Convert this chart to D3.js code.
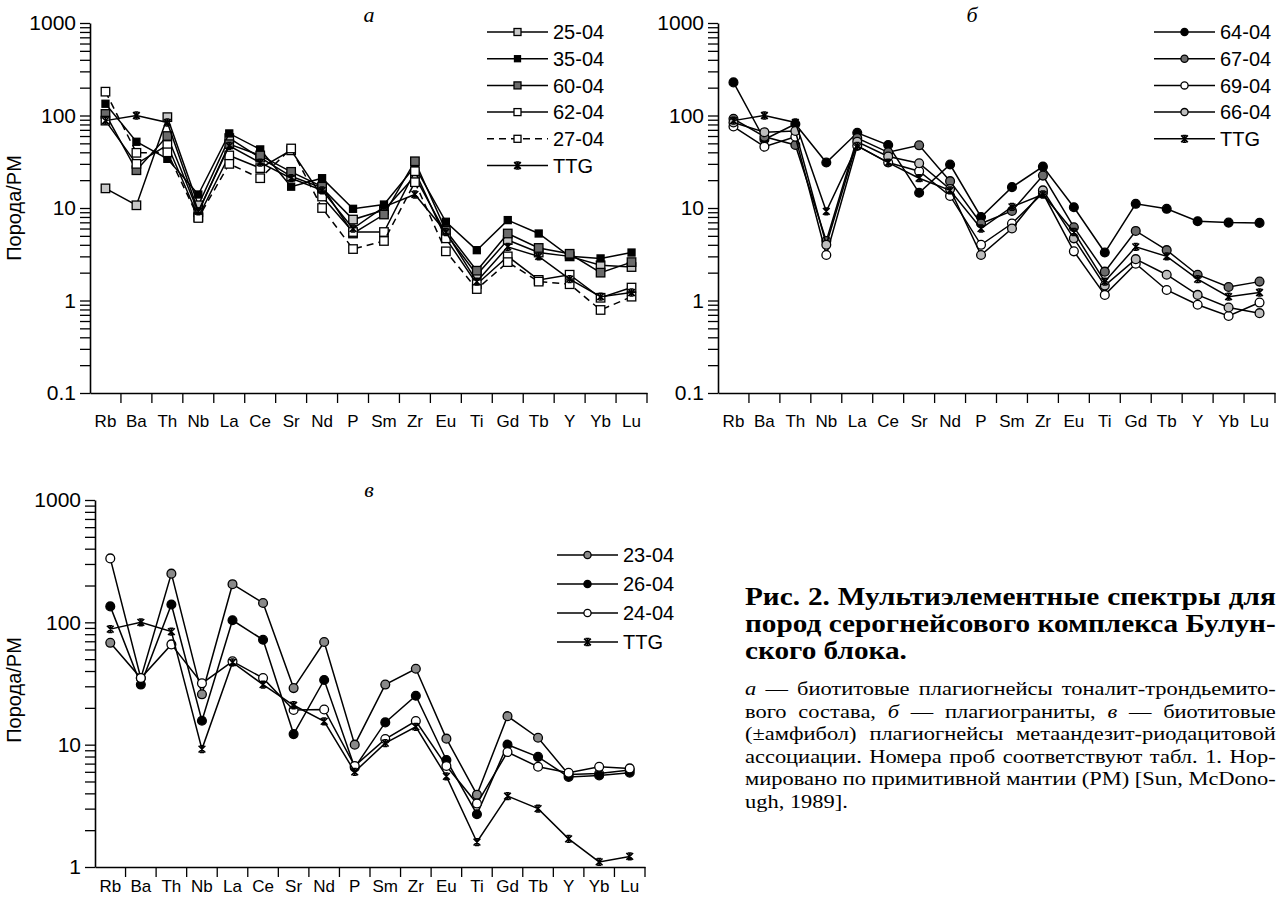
<!DOCTYPE html>
<html>
<head>
<meta charset="utf-8">
<script src="https://cdn.jsdelivr.net/npm/d3@7"></script>
<style>
body { margin: 0; background: #fff; }
svg { display: block; }
</style>
</head>
<body>
<script>
// elements on the x axis (same for all three panels)
var elements = ["Rb","Ba","Th","Nb","La","Ce","Sr","Nd","P","Sm","Zr","Eu","Ti","Gd","Tb","Y","Yb","Lu"];

// TTG reference curve
var ttg = [88, 100, 84, 9.2, 47, 31, 21, 15.5, 6.0, 10.3, 14, 5.5, 1.6, 3.8, 3.0, 1.7, 1.1, 1.22];

// panel a
var s2504 = [16.3, 10.7, 96, 10.7, 57, 35, 22, 16.5, 7.5, 9.5, 22, 5.3, 1.9, 4.5, 3.3, 3.0, 2.4, 2.3];
var s3504 = [134, 52, 34, 14, 64, 43, 17, 21, 9.8, 10.9, 28, 7.1, 3.5, 7.4, 5.3, 3.0, 2.85, 3.3];
var s6004 = [104, 25.6, 60, 9.0, 49, 37, 24.6, 17, 5.3, 8.5, 32, 5.7, 2.1, 5.3, 3.7, 3.2, 2.0, 2.6];
var s6204 = [88, 30, 48, 8.0, 37, 27, 42, 13.3, 5.5, 5.5, 25, 4.7, 1.5, 3.0, 1.67, 1.9, 1.07, 1.38];
var s2704 = [181, 39.5, 40, 7.8, 30, 21, 44, 10, 3.6, 4.4, 19, 3.4, 1.33, 2.6, 1.6, 1.5, 0.79, 1.1];

// panel б
var s6404 = [228, 55, 81, 31, 65, 48, 14.6, 29.5, 8.0, 16.8, 28, 10.2, 3.3, 11.1, 9.8, 7.2, 6.95, 6.9];
var s6704 = [92, 59, 48, 4.4, 57, 40, 47.6, 19.5, 6.8, 9.3, 22.4, 6.2, 2.05, 5.65, 3.5, 1.9, 1.4, 1.6];
var s6904 = [76, 46, 59, 3.1, 47, 31, 25, 13.5, 4.0, 6.8, 14.5, 3.4, 1.15, 2.5, 1.3, 0.9, 0.68, 0.95];
var s6604 = [84, 66, 68, 4.0, 52, 36, 30.5, 16, 3.1, 6.0, 15.5, 4.7, 1.45, 2.8, 1.9, 1.15, 0.84, 0.73];

// panel в
var s2304 = [68, 35, 250, 25.8, 205, 144, 29, 69, 10, 31, 41.7, 11.2, 3.9, 17.1, 11.4, 5.7, 5.8, 6.2];
var s2604 = [135, 31, 140, 15.7, 104, 72, 12.2, 33.8, 6.5, 15.2, 25.1, 7.5, 2.7, 10, 7.95, 5.45, 5.6, 5.9];
var s2404 = [333, 35, 66, 31.7, 48, 35, 19.2, 19.4, 6.7, 11.1, 15.6, 6.7, 3.3, 8.7, 6.6, 5.9, 6.6, 6.4];

var SANS = "'Liberation Sans', Arial, sans-serif";
var SERIF = "'Liberation Serif', 'Times New Roman', serif";

var W = 1284, H = 900;
var svg = d3.select("body").append("svg").attr("width", W).attr("height", H);
svg.append("rect").attr("width", W).attr("height", H).attr("fill", "#fff");

function starPath(r) {
	var p = d3.path();
	var b = r * 0.6;
	p.moveTo(-r, -r); p.lineTo(r, r);
	p.moveTo(r, -r); p.lineTo(-r, r);
	p.moveTo(-b, -r); p.lineTo(b, -r);
	p.moveTo(-b, r); p.lineTo(b, r);
	p.moveTo(0, -r); p.lineTo(0, r);
	return p.toString();
}

function addMarker(g, m, cx, cy, legend) {
	if (m.shape == "square") {
		var s = legend ? m.legSize : m.size;
		g.append("rect")
		.attr("x", cx - s/2).attr("y", cy - s/2)
		.attr("width", s).attr("height", s)
		.attr("fill", m.fill).attr("stroke", "#000").attr("stroke-width", 1.3);
	} else if (m.shape == "circle") {
		g.append("circle")
		.attr("cx", cx).attr("cy", cy).attr("r", legend ? 3.6 : 4.4)
		.attr("fill", m.fill).attr("stroke", "#000").attr("stroke-width", 1.3);
	} else {
		g.append("path")
		.attr("transform", "translate(" + cx + "," + cy + ")")
		.attr("d", starPath(3.4))
		.attr("fill", "none").attr("stroke", "#000").attr("stroke-width", 1.5);
	}
}

function drawPanel(cfg) {
	var g = svg.append("g");
	var x = d3.scaleBand().domain(elements).range([cfg.x0, cfg.x1]);
	var y = d3.scaleLog().domain(cfg.yDomain).range([cfg.yBottom, cfg.yTop]);

	// minor + major ticks of the log axis
	var ticks = [];
	var e0 = Math.round(Math.log10(cfg.yDomain[0])), e1 = Math.round(Math.log10(cfg.yDomain[1]));
	for (var e = e0; e < e1; e++) {
		for (var k = 1; k < 10; k++) ticks.push(k * Math.pow(10, e));
	}
	ticks.push(Math.pow(10, e1));

	var yAxis = d3.axisLeft(y)
	.tickValues(ticks)
	.tickSize(10)
	.tickSizeOuter(0)
	.tickPadding(4)
	.tickFormat(function(d) {
		var l = Math.log10(d);
		if (Math.abs(l - Math.round(l)) > 1e-9) return "";
		return Math.round(l) < 0 ? "0.1" : String(Math.round(d));
	});

	g.append("g")
	.attr("transform", "translate(" + cfg.x0 + ",0)")
	.call(yAxis)
	.call(function(s) {
		s.select(".domain").attr("stroke-width", 1.6);
		s.selectAll(".tick line").attr("stroke-width", 1.3);
		s.selectAll("text").attr("font-family", SANS).attr("font-size", 21).attr("fill", "#000");
	});

	var xAxis = d3.axisBottom(x).tickSize(0).tickSizeOuter(0).tickPadding(cfg.labelPad);
	g.append("g")
	.attr("transform", "translate(0," + cfg.yBottom + ")")
	.call(xAxis)
	.call(function(s) {
		s.select(".domain").attr("stroke-width", 1.6);
		s.selectAll("text").attr("font-family", SANS).attr("font-size", 17).attr("fill", "#000");
	});

	// ticks between the elements
	g.append("g")
	.selectAll("line")
	.data(elements)
	.enter()
	.append("line")
	.attr("x1", function(d){ return x(d) + x.bandwidth(); })
	.attr("x2", function(d){ return x(d) + x.bandwidth(); })
	.attr("y1", cfg.yBottom)
	.attr("y2", cfg.yBottom + 10)
	.attr("stroke", "#000")
	.attr("stroke-width", 1.3);

	if (cfg.yTitle) {
		g.append("text")
		.attr("transform", "translate(" + cfg.yTitleX + "," + cfg.yTitleY + ") rotate(-90)")
		.attr("text-anchor", "middle")
		.attr("font-family", SANS)
		.attr("font-size", 20)
		.text("Порода/PM");
	}

	g.append("text")
	.attr("x", cfg.letterX).attr("y", cfg.letterY)
	.attr("text-anchor", "middle")
	.attr("font-family", SERIF)
	.attr("font-style", "italic")
	.attr("font-size", 22)
	.text(cfg.letter);

	var line = d3.line()
	.x(function(d, i){ return x(elements[i]) + x.bandwidth()/2; })
	.y(function(d){ return y(d); });

	cfg.series.forEach(function(s) {
		g.append("path")
		.datum(s.values)
		.attr("d", line)
		.attr("fill", "none")
		.attr("stroke", "#000")
		.attr("stroke-width", 1.5)
		.attr("stroke-dasharray", s.dash || null);
		var mg = g.append("g");
		s.values.forEach(function(v, i) {
			addMarker(mg, s, x(elements[i]) + x.bandwidth()/2, y(v), false);
		});
	});

	// legend
	cfg.series.forEach(function(s, i) {
		var yy = cfg.legY + i * cfg.legDy;
		g.append("line")
		.attr("x1", cfg.legX).attr("x2", cfg.legX + 61)
		.attr("y1", yy).attr("y2", yy)
		.attr("stroke", "#000").attr("stroke-width", 1.5)
		.attr("stroke-dasharray", s.dash || null);
		addMarker(g, s, cfg.legX + 30.5, yy, true);
		g.append("text")
		.attr("x", cfg.legX + 66).attr("y", yy)
		.attr("dy", "0.36em")
		.attr("font-family", SANS)
		.attr("font-size", 20)
		.text(s.name);
	});
}

var ttgSeries = {name: "TTG", values: ttg, shape: "star"};

drawPanel({
	x0: 90, x1: 647, yTop: 23, yBottom: 393, yDomain: [0.1, 1000], labelPad: 22,
	yTitle: true, yTitleX: 21, yTitleY: 208,
	letter: "а", letterX: 369, letterY: 22,
	legX: 487, legY: 32, legDy: 26.7,
	series: [
		{name: "25-04", values: s2504, shape: "square", fill: "#c8c8c8", size: 8.5, legSize: 7},
		{name: "35-04", values: s3504, shape: "square", fill: "#000", size: 7, legSize: 6},
		{name: "60-04", values: s6004, shape: "square", fill: "#6b6b6b", size: 8.5, legSize: 7},
		{name: "62-04", values: s6204, shape: "square", fill: "#fff", size: 8.5, legSize: 7},
		{name: "27-04", values: s2704, shape: "square", fill: "#fff", size: 8.5, legSize: 7, dash: "7,5"},
		ttgSeries
	]
});

drawPanel({
	x0: 718, x1: 1275, yTop: 23, yBottom: 393, yDomain: [0.1, 1000], labelPad: 22,
	yTitle: false,
	letter: "б", letterX: 972, letterY: 22,
	legX: 1154, legY: 32, legDy: 26.7,
	series: [
		{name: "64-04", values: s6404, shape: "circle", fill: "#000"},
		{name: "67-04", values: s6704, shape: "circle", fill: "#6b6b6b"},
		{name: "69-04", values: s6904, shape: "circle", fill: "#fff"},
		{name: "66-04", values: s6604, shape: "circle", fill: "#bdbdbd"},
		ttgSeries
	]
});

drawPanel({
	x0: 95, x1: 645, yTop: 500, yBottom: 867, yDomain: [1, 1000], labelPad: 13,
	yTitle: true, yTitleX: 21, yTitleY: 690,
	letter: "в", letterX: 369, letterY: 497,
	legX: 557, legY: 555, legDy: 29,
	series: [
		{name: "23-04", values: s2304, shape: "circle", fill: "#8a8a8a"},
		{name: "26-04", values: s2604, shape: "circle", fill: "#000"},
		{name: "24-04", values: s2404, shape: "circle", fill: "#fff"},
		ttgSeries
	]
});

// caption, lines justified to the column width
var headLines = [
	[["Рис. 2. Мультиэлементные спектры для", 0]],
	[["пород серогнейсового комплекса Булун-", 0]],
	[["ского блока.", 0]]
];
var bodyLines = [
	[["а", 1], [" — биотитовые плагиогнейсы тоналит-трондьемито-", 0]],
	[["вого состава, ", 0], ["б", 1], [" — плагиограниты, ", 0], ["в", 1], [" — биотитовые", 0]],
	[["(±амфибол) плагиогнейсы метаандезит-риодацитовой", 0]],
	[["ассоциации. Номера проб соответствуют табл. 1. Нор-", 0]],
	[["мировано по примитивной мантии (PM) [Sun, McDono-", 0]],
	[["ugh, 1989].", 0]]
];

function drawPara(lines, x, y0, dy, width, size, weight) {
	var items = lines.map(function(segs, i) {
		var gg = svg.append("g");
		var t = gg.append("text")
		.attr("font-family", SERIF)
		.attr("font-size", size)
		.attr("font-weight", weight);
		var full = "";
		segs.forEach(function(sg) {
			t.append("tspan").attr("font-style", sg[1] ? "italic" : null).text(sg[0]);
			full += sg[0];
		});
		return {g: gg, t: t, w: t.node().getComputedTextLength(), n: full.split(" ").length - 1, y: y0 + i*dy};
	});
	var k = 1.25;
	items.forEach(function(it, i) {
		if (i < items.length - 1) k = Math.min(k, width / it.w);
	});
	items.forEach(function(it, i) {
		if (i < items.length - 1 && it.n > 0) {
			var ws = (width / k - it.w) / it.n;
			it.t.style("word-spacing", ws + "px");
		}
		it.g.attr("transform", "translate(" + x + "," + it.y + ") scale(" + k + ",1)");
	});
}

drawPara(headLines, 745, 605, 27, 531, 25, "bold");
drawPara(bodyLines, 745, 695, 22.5, 531, 18.5, "normal");
</script>
</body>
</html>
